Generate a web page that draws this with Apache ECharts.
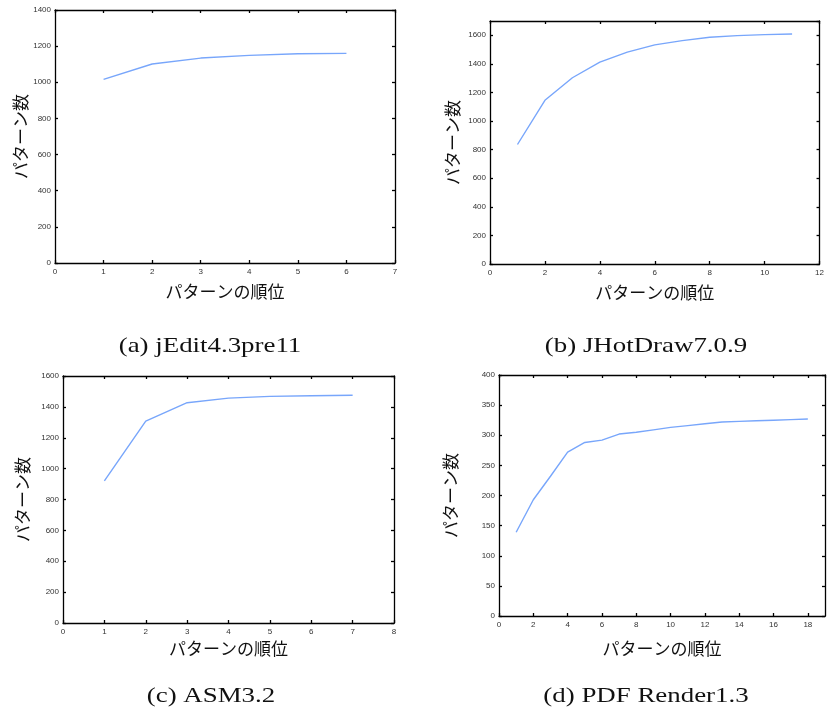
<!DOCTYPE html>
<html><head><meta charset="utf-8">
<script src="https://cdn.jsdelivr.net/npm/echarts@6/dist/echarts.min.js"></script>
<style>html,body{margin:0;padding:0;background:#fff}#c{width:827px;height:718px}</style>
</head><body><div id="c"></div>
<script>
// Data
const xA = [1, 2, 3, 4, 5, 6];
const yA = [1016, 1101, 1134, 1149, 1158, 1160];
const xB = [1, 2, 3, 4, 5, 6, 7, 8, 9, 10, 11];
const yB = [836, 1145, 1303, 1412, 1482, 1533, 1563, 1586, 1598, 1605, 1609];
const xC = [1, 2, 3, 4, 5, 6, 7];
const yC = [921, 1308, 1427, 1457, 1468, 1472, 1475];
const xD = [1, 2, 3, 4, 5, 6, 7, 8, 9, 10, 11, 12, 13, 14, 15, 16, 17, 18];
const yD = [139, 193, 232, 272, 288, 292, 302, 305, 309, 313, 316, 319, 322, 323, 324, 325, 326, 327];
const captions = ['(a) jEdit4.3pre11', '(b) JHotDraw7.0.9', '(c) ASM3.2', '(d) PDF Render1.3'];
const xName = 'パターンの順位';
const yName = 'パターン数';

const panels = [
  {x: xA, y: yA, grid: {left: 55, top: 10, width: 340, height: 253}, xMax: 7, xInt: 1, yMax: 1400, yInt: 200, xGap: 20, yGap: 24, cap: [210, 346]},
  {x: xB, y: yB, grid: {left: 490, top: 21, width: 331, height: 243}, xMax: 12, xInt: 2, yMax: 1700, yInt: 200, xGap: 20, yGap: 29, cap: [646, 346]},
  {x: xC, y: yC, grid: {left: 63, top: 376, width: 331, height: 247}, xMax: 8, xInt: 1, yMax: 1600, yInt: 200, xGap: 17, yGap: 32, cap: [211, 696]},
  {x: xD, y: yD, grid: {left: 499, top: 375, width: 326, height: 241}, xMax: 19, xInt: 2, yMax: 400, yInt: 50, xGap: 24, yGap: 40, cap: [646, 696]}
];

const jp = '"Noto Sans CJK JP", sans-serif';
const grids = [], xAxes = [], yAxes = [], series = [], graphics = [];
const lineStyle = {color: '#000', width: 1.3};
const lbl = {fontSize: 8, color: '#333', fontFamily: 'Liberation Sans, Arial', formatter: v => String(v)};
panels.forEach((p, i) => {
  grids.push(Object.assign({containLabel: false}, p.grid));
  const xb = xAxes.length;
  xAxes.push({type: 'value', gridIndex: i, position: 'bottom', min: 0, max: p.xMax, interval: p.xInt,
    name: xName, nameLocation: 'middle', nameGap: p.xGap, nameTextStyle: {fontSize: 17, color: '#111', fontFamily: jp},
    axisLine: {show: true, onZero: false, lineStyle}, axisTick: {inside: true, length: 3, lineStyle},
    axisLabel: Object.assign({margin: 5, showMaxLabel: p.xMax % p.xInt === 0}, lbl), splitLine: {show: false}});
  xAxes.push({type: 'value', gridIndex: i, position: 'top', min: 0, max: p.xMax, interval: p.xInt,
    axisLine: {show: true, onZero: false, lineStyle}, axisTick: {inside: true, length: 3, lineStyle},
    axisLabel: {show: false}, splitLine: {show: false}});
  const yb = yAxes.length;
  yAxes.push({type: 'value', gridIndex: i, position: 'left', min: 0, max: p.yMax, interval: p.yInt,
    name: yName, nameLocation: 'middle', nameGap: p.yGap, nameTextStyle: {fontSize: 17, color: '#111', fontFamily: jp},
    axisLine: {show: true, onZero: false, lineStyle}, axisTick: {inside: true, length: 3, lineStyle},
    axisLabel: Object.assign({margin: 4, showMaxLabel: p.yMax % p.yInt === 0}, lbl), splitLine: {show: false}});
  yAxes.push({type: 'value', gridIndex: i, position: 'right', min: 0, max: p.yMax, interval: p.yInt,
    axisLine: {show: true, onZero: false, lineStyle}, axisTick: {inside: true, length: 3, lineStyle},
    axisLabel: {show: false}, splitLine: {show: false}});
  series.push({type: 'line', xAxisIndex: xb, yAxisIndex: yb, data: p.x.map((v, k) => [v, p.y[k]]),
    symbol: 'none', lineStyle: {color: '#78a6fb', width: 1.4}, animation: false});
  graphics.push({type: 'text', x: p.cap[0], y: p.cap[1], scaleX: 1.28, style: {text: captions[i], font: '21px "Liberation Serif", serif',
    fill: '#111', textAlign: 'center', textVerticalAlign: 'middle'}});
});

const chart = echarts.init(document.getElementById('c'), null, {renderer: 'canvas'});
chart.setOption({animation: false, backgroundColor: '#fff', grid: grids, xAxis: xAxes, yAxis: yAxes, series, graphic: graphics});
</script></body></html>
